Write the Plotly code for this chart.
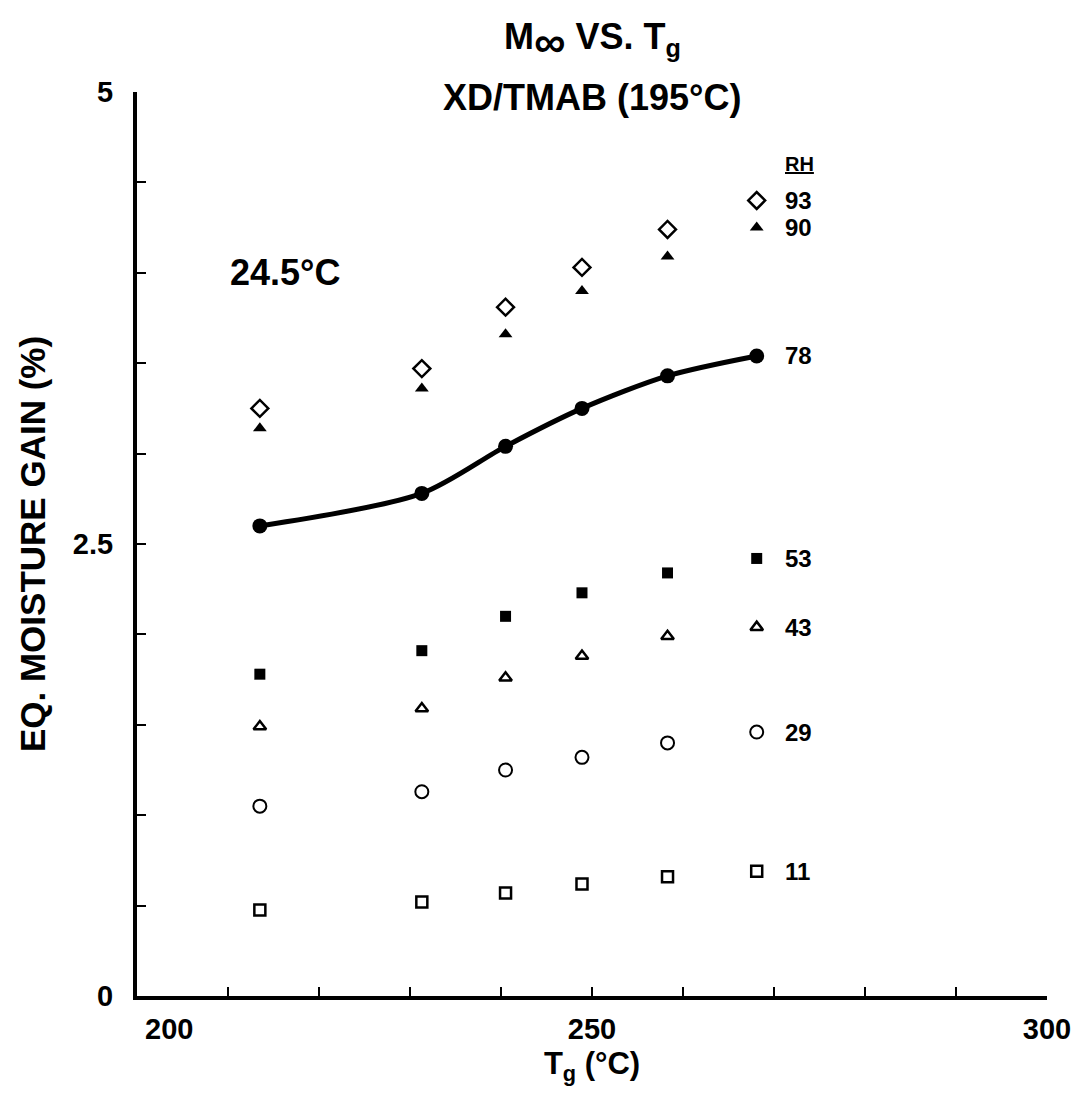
import plotly.graph_objects as go

# ---- data ----
tg = [213.5, 231.3, 240.5, 248.9, 258.3, 268.1]

rh93 = [3.25, 3.47, 3.81, 4.03, 4.24, 4.40]
rh90 = [3.14, 3.36, 3.66, 3.90, 4.09, 4.25]
rh78 = [2.60, 2.78, 3.04, 3.25, 3.43, 3.54]
rh53 = [1.78, 1.91, 2.10, 2.23, 2.34, 2.42]
rh43 = [1.49, 1.59, 1.76, 1.88, 1.99, 2.04]
rh29 = [1.05, 1.13, 1.25, 1.32, 1.40, 1.46]
rh11 = [0.475, 0.52, 0.57, 0.62, 0.66, 0.69]

rh_labels = ["93", "90", "78", "53", "43", "29", "11"]
y_ticks = [0, 0.5, 1, 1.5, 2, 2.5, 3, 3.5, 4, 4.5, 5]
y_ticktext = ["0", "", "", "", "", "2.5", "", "", "", "", "5"]
x_ticks = [200, 210, 220, 230, 240, 250, 260, 270, 280, 290, 300]
x_ticktext = ["\u00a0" * 8 + "200", "", "", "", "", "250", "", "", "", "", "300"]

FONT = "Liberation Sans, Arial, sans-serif"

series = [
    (rh93, dict(symbol="diamond-open", size=13, line=dict(width=2.5, color="black"))),
    (rh90, dict(symbol="triangle-up", size=12, color="black")),
    (rh78, dict(symbol="circle", size=15, color="black")),
    (rh53, dict(symbol="square", size=11, color="black")),
    (rh43, dict(symbol="triangle-up-open", size=11, line=dict(width=2.5, color="black"))),
    (rh29, dict(symbol="circle-open", size=13, line=dict(width=2, color="black"))),
    (rh11, dict(symbol="square-open", size=11, line=dict(width=2.5, color="black"))),
]

fig = go.Figure()

# smooth curve through RH 78 points
fig.add_trace(go.Scatter(x=tg, y=rh78, mode="lines",
                         line=dict(color="black", width=5, shape="spline", smoothing=0.8),
                         showlegend=False, hoverinfo="skip"))

for ys, mk in series:
    m = dict(mk)
    if "color" not in m:
        m["color"] = "black"
    fig.add_trace(go.Scatter(x=tg, y=ys, mode="markers", marker=m, showlegend=False))

annotations = []
for ys, lab in zip([rh93, rh90, rh78, rh53, rh43, rh29, rh11], rh_labels):
    annotations.append(dict(x=271.0, y=ys[-1], xref="x", yref="y", text="<b>%s</b>" % lab,
                            showarrow=False, xanchor="left", yanchor="middle",
                            font=dict(size=24, family=FONT, color="black")))
annotations.append(dict(x=271.0, y=4.6, xref="x", yref="y", text="<b><u>RH</u></b>",
                        showarrow=False, xanchor="left", yanchor="middle",
                        font=dict(size=20, family=FONT, color="black")))
annotations.append(dict(x=216.3, y=4.0, xref="x", yref="y", text="<b>24.5°C</b>",
                        showarrow=False, xanchor="center", yanchor="middle",
                        font=dict(size=36, family=FONT, color="black")))
# title lines
annotations.append(dict(x=0.5, y=1.056, xref="paper", yref="paper",
                        text="<b>M<sub><span style=\"font-size:44px\">∞</span></sub> VS. T<sub>g</sub></b>",
                        showarrow=False, xanchor="center", yanchor="middle",
                        font=dict(size=36, family=FONT, color="black")))
annotations.append(dict(x=0.5, y=0.994, xref="paper", yref="paper",
                        text="<b>XD/TMAB (195°C)</b>",
                        showarrow=False, xanchor="center", yanchor="middle",
                        font=dict(size=36, family=FONT, color="black")))

fig.update_layout(
    width=1082, height=1102,
    paper_bgcolor="white", plot_bgcolor="white",
    margin=dict(l=137, r=35, t=92, b=106),
    annotations=annotations,
    font=dict(family=FONT, color="black"),
)

fig.update_xaxes(range=[200, 300], showgrid=False, zeroline=False,
                 showline=True, linecolor="black", linewidth=4,
                 ticks="inside", ticklen=9, tickwidth=2, tickcolor="black",
                 tickvals=x_ticks, ticktext=["<b>%s</b>" % t if t else "" for t in x_ticktext],
                 ticklabelstandoff=4,
                 tickfont=dict(size=29, family=FONT, color="black"),
                 title=dict(text="<b>T<sub>g</sub> (°C)</b>", standoff=10,
                            font=dict(size=31, family=FONT, color="black")))
fig.update_yaxes(range=[0, 5], showgrid=False, zeroline=False,
                 showline=True, linecolor="black", linewidth=4,
                 ticks="inside", ticklen=9, tickwidth=2, tickcolor="black",
                 tickvals=y_ticks, ticktext=["<b>%s</b>" % t if t else "" for t in y_ticktext],
                 ticklabelstandoff=14,
                 tickfont=dict(size=29, family=FONT, color="black"),
                 title=dict(text="<b>EQ. MOISTURE GAIN (%)</b>", standoff=18,
                            font=dict(size=35, family=FONT, color="black")))

fig.write_html("out.html")
